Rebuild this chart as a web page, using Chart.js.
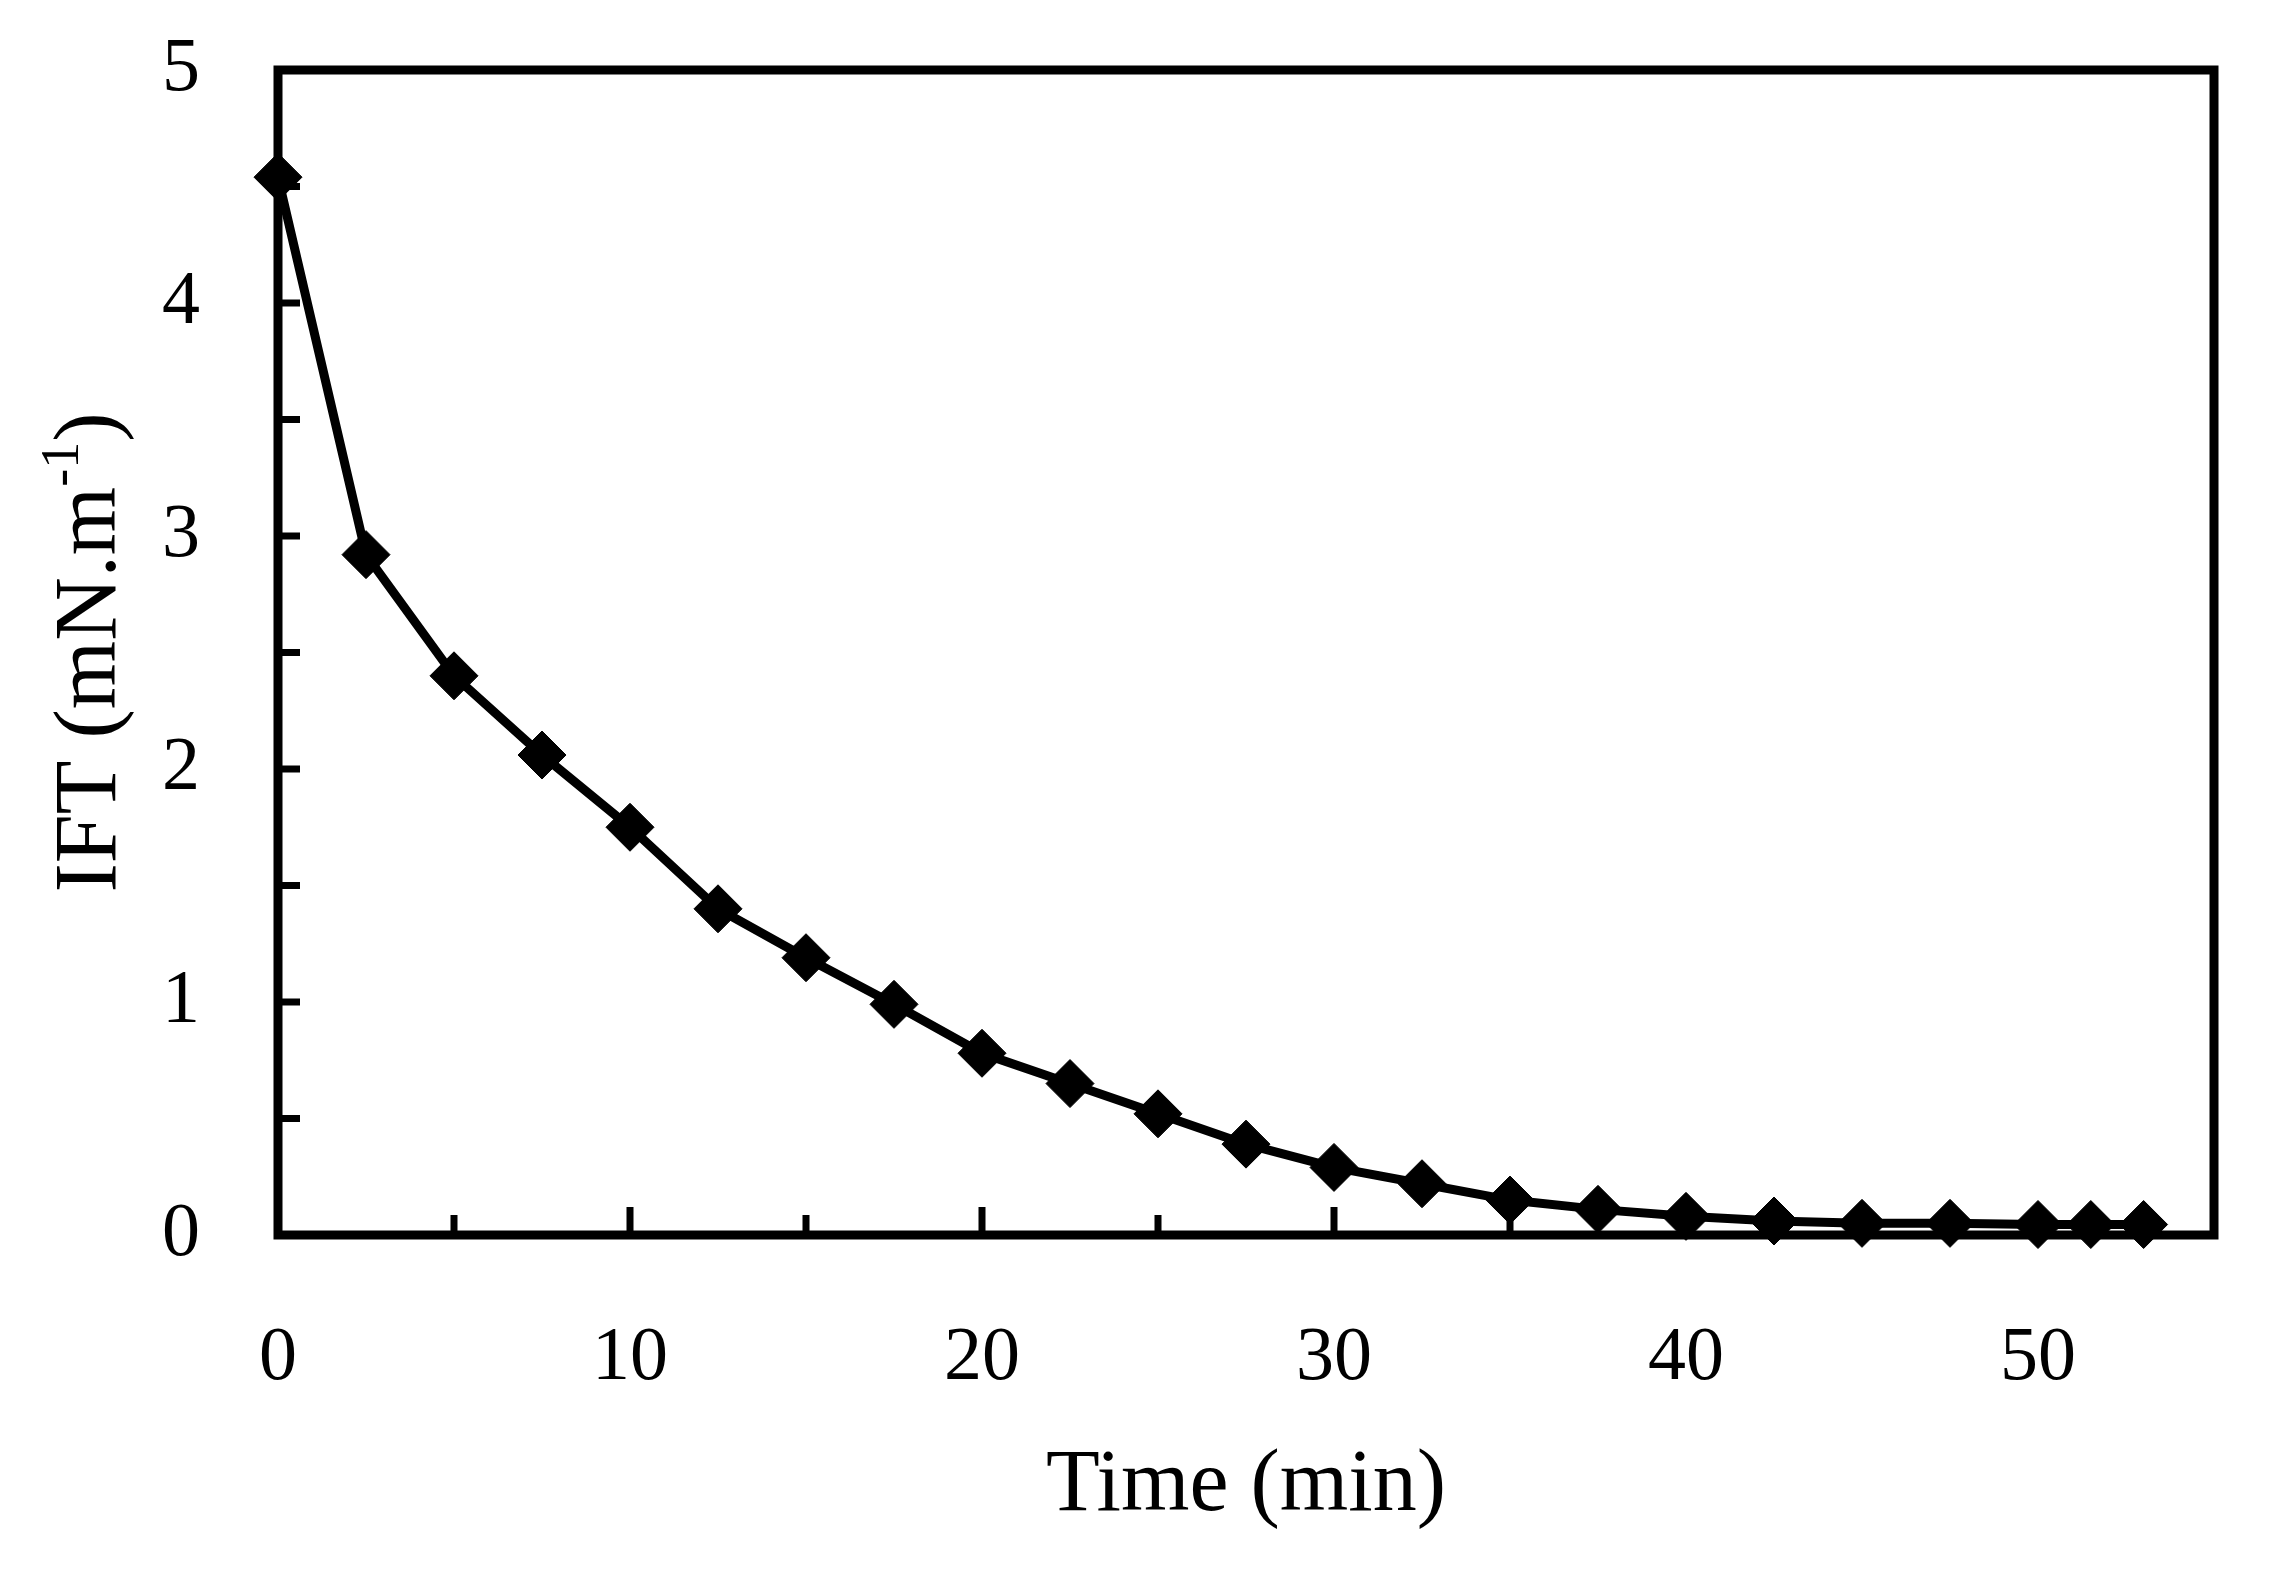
<!DOCTYPE html>
<html>
<head>
<meta charset="utf-8">
<script src="https://cdn.jsdelivr.net/npm/chart.js@4.4.0/dist/chart.umd.min.js"></script>
<style>
  html, body { margin: 0; padding: 0; background: #fff; }
  canvas { display: block; }
</style>
</head>
<body>
<canvas id="iftChart" width="2291" height="1571"></canvas>
<script>
// IFT over time
const timeMin = [0, 2.5, 5, 7.5, 10, 12.5, 15, 17.5, 20, 22.5, 25, 27.5, 30, 32.5, 35, 37.5, 40, 42.5, 45, 47.5, 50, 51.5, 53];
const iftValues = [4.54, 2.92, 2.40, 2.06, 1.75, 1.40, 1.19, 0.99, 0.78, 0.65, 0.52, 0.39, 0.29, 0.22, 0.15, 0.11, 0.08, 0.06, 0.05, 0.05, 0.045, 0.045, 0.045];
const xTickLabels = [0, 10, 20, 30, 40, 50];
const xMinorTicks = [5, 15, 25, 35, 45];
const yTickLabels = [0, 1, 2, 3, 4, 5];
const yMinorTicks = [0.5, 1.5, 2.5, 3.5, 4.5];

const FONT = '"Liberation Serif", "Times New Roman", serif';

// box around the plot, inward ticks and the y title with its superscript
const frameAndTicks = {
    id: 'frameAndTicks',
    beforeDatasetsDraw(chart) {
        const { ctx, chartArea: a, scales: { x, y } } = chart;
        ctx.save();
        ctx.strokeStyle = '#000';
        ctx.lineWidth = 7;
        ctx.beginPath();
        yTickLabels.concat(yMinorTicks).forEach(v => {
            const py = y.getPixelForValue(v);
            ctx.moveTo(a.left, py);
            ctx.lineTo(a.left + 22, py);
        });
        xTickLabels.forEach(v => {
            const px = x.getPixelForValue(v);
            ctx.moveTo(px, a.bottom);
            ctx.lineTo(px, a.bottom - 28);
        });
        xMinorTicks.forEach(v => {
            const px = x.getPixelForValue(v);
            ctx.moveTo(px, a.bottom);
            ctx.lineTo(px, a.bottom - 20);
        });
        ctx.stroke();
        ctx.lineWidth = 9;
        ctx.strokeRect(a.left, a.top, a.right - a.left, a.bottom - a.top);
        ctx.restore();
    },
    afterDraw(chart) {
        const { ctx, chartArea: a } = chart;
        const main = '88px ' + FONT;
        const sup = '54px ' + FONT;
        ctx.save();
        ctx.translate(92, (a.top + a.bottom) / 2);
        ctx.rotate(-Math.PI / 2);
        ctx.fillStyle = '#000';
        ctx.textAlign = 'left';
        ctx.textBaseline = 'middle';
        ctx.font = main;
        const w1 = ctx.measureText('IFT (mN.m').width;
        const w3 = ctx.measureText(')').width;
        ctx.font = sup;
        const w2 = ctx.measureText('-1').width;
        let cx = -(w1 + w2 + w3) / 2;
        ctx.font = main;
        ctx.fillText('IFT (mN.m', cx, 0);
        cx += w1;
        ctx.font = sup;
        ctx.fillText('-1', cx, -28);
        cx += w2;
        ctx.font = main;
        ctx.fillText(')', cx, 0);
        ctx.restore();
    }
};

const ctx = document.getElementById('iftChart').getContext('2d');
new Chart(ctx, {
    type: 'line',
    data: {
        datasets: [{
            data: timeMin.map((t, i) => ({ x: t, y: iftValues[i] })),
            borderColor: '#000',
            backgroundColor: '#000',
            borderWidth: 9,
            tension: 0,
            pointStyle: 'rectRot',
            pointRadius: 24,
            pointBorderWidth: 1,
            pointBackgroundColor: '#000',
            pointBorderColor: '#000',
            clip: false
        }]
    },
    options: {
        responsive: false,
        devicePixelRatio: 1,
        animation: false,
        layout: { padding: { top: 70, right: 77, left: 0, bottom: 0 } },
        plugins: { legend: { display: false }, tooltip: { enabled: false } },
        scales: {
            x: {
                type: 'linear',
                min: 0,
                max: 55,
                grid: { display: false, drawTicks: false },
                border: { display: false },
                afterBuildTicks: s => { s.ticks = xTickLabels.map(v => ({ value: v })); },
                afterFit: s => { s.height = 336; s.paddingLeft = 0; s.paddingRight = 0; },
                ticks: { padding: 78, color: '#000', font: { family: FONT, size: 76 } },
                title: {
                    display: true,
                    text: 'Time (min)',
                    color: '#000',
                    font: { family: FONT, size: 88, lineHeight: 1 },
                    padding: { top: 0, bottom: 40 }
                }
            },
            y: {
                min: 0,
                max: 5,
                grid: { display: false, drawTicks: false },
                border: { display: false },
                afterBuildTicks: s => { s.ticks = yTickLabels.map(v => ({ value: v })); },
                afterFit: s => { s.width = 278; s.paddingTop = 0; s.paddingBottom = 0; },
                ticks: { padding: 78, color: '#000', font: { family: FONT, size: 76 } }
            }
        }
    },
    plugins: [frameAndTicks]
});
</script>
</body>
</html>
